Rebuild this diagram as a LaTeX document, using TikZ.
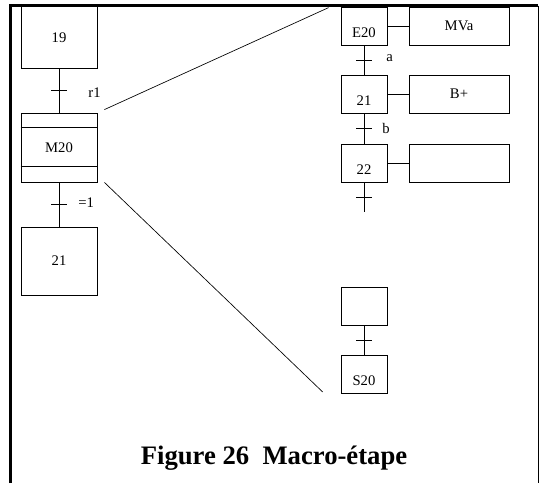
\documentclass[tikz,border=0pt]{standalone}
\usepackage{fontspec}
\setmainfont{Liberation Serif}
\usetikzlibrary{positioning,calc}

\begin{document}
\begin{tikzpicture}[
      x=0.75pt, y=-0.75pt,
      font=\fontsize{11}{13}\selectfont,
      stepbox/.style={draw, inner sep=0pt, minimum width=57pt, minimum height=46pt},
      macrobox/.style={draw, inner sep=0pt, minimum width=57pt, minimum height=51.75pt},
      smallstep/.style={draw, inner sep=0pt, minimum width=34.5pt, minimum height=28.5pt,
                        text height=17pt, text depth=0pt},
      actbox/.style={draw, inner sep=0pt, minimum width=75pt, minimum height=28.5pt},
      lbl/.style={inner sep=0pt, anchor=west},
      line width=0.6pt
    ]
    \useasboundingbox (0,0) rectangle (540,483);

    % --- frame -------------------------------------------------------------
    \draw[line width=2.2pt] (10.5,483) -- (10.5,5.5) -- (538,5.5);
    \draw[line width=1pt] (538.5,5.5) -- (538.5,483);

    % --- main grafcet ------------------------------------------------------
    \node[stepbox] (s19) at (59,37.5) {19};
    \node[macrobox] (m20) at (59,147.5) {M20};
    \node[stepbox, minimum height=51pt] (s21) at (59,261) {21};
    \draw ([shift={(0,15)}]m20.north west) -- ([shift={(0,15)}]m20.north east);
    \draw ([shift={(0,-16)}]m20.south west) -- ([shift={(0,-16)}]m20.south east);

    \draw (s19) -- coordinate (t1) (m20);
    \draw (m20) -- coordinate (t2) (s21);
    \draw ([shift={(-8,0)}]t1) -- ([shift={(8,0)}]t1);
    \draw ([shift={(-8,0)}]t2) -- ([shift={(8,0)}]t2);
    \node[lbl] (r1) at (88,93) {r1};
    \node[lbl] (eq1) at (78,203) {=1};

    % --- expansion of the macro-step ---------------------------------------
    \node[smallstep] (e20) at (364,26) {E20};
    \node[smallstep] (x21) at (364,94) {21};
    \node[smallstep] (x22) at (364,163) {22};
    \node[actbox] (mva) at (459,26) {MVa};
    \node[actbox] (bp)  at (459,94) {B+};
    \node[actbox] (a22) at (459,163) {};
    \coordinate (end22) at (364,212);

    \draw (e20) -- (mva);
    \draw (x21) -- (bp);
    \draw (x22) -- (a22);
    \draw (e20) -- coordinate (ta) (x21);
    \draw (x21) -- coordinate (tb) (x22);
    \draw (x22) -- coordinate (tc) (end22);
    \foreach \t in {ta,tb,tc}
      \draw ([shift={(-8,0)}]\t) -- ([shift={(8,0)}]\t);
    \node[lbl] (la) at (386,58) {a};
    \node[lbl] (lb) at (382,128) {b};

    \node[smallstep] (x19) at (364,306) {};
    \node[smallstep] (s20) at (364,374.5) {S20};
    \draw (x19) -- coordinate (td) (s20);
    \draw ([shift={(-8,0)}]td) -- ([shift={(8,0)}]td);

    % --- zoom lines --------------------------------------------------------
    \draw[line width=0.5pt] ([shift={(7,-3)}]m20.north east) -- ([shift={(-12,1)}]e20.north west);
    \draw[line width=0.5pt] ([shift={(7,0)}]m20.south east) -- ([shift={(-18,-2)}]s20.south west);

    % --- caption -----------------------------------------------------------
    \node[font=\fontsize{20}{24}\selectfont\bfseries, anchor=base] (cap) at (274,464)
         {Figure 26\ \ Macro-étape};
\end{tikzpicture}
\end{document}
